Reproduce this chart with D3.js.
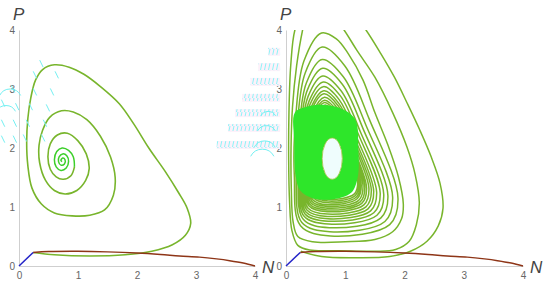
<!DOCTYPE html>
<html>
<head>
<meta charset="utf-8">
<script src="https://cdn.jsdelivr.net/npm/d3@7"></script>
<style>
  body { margin: 0; background: #fff; }
  svg { display: block; font-family: "Liberation Sans", Arial, sans-serif; }
</style>
</head>
<body>
<div id="chart"></div>
<script>
// ---- data (N, P) ----
const ticks = [0, 1, 2, 3, 4];

const separatrix = [[0, 0], [0.24, 0.23]];
const nullcline = [[0.24, 0.23], [0.5, 0.245], [1.0, 0.25], [1.5, 0.24], [2.0, 0.22], [2.4, 0.195],
  [2.72, 0.17], [3.06, 0.15], [3.35, 0.12], [3.57, 0.09], [3.8, 0.05], [4.0, 0]];

// left panel: one trajectory spiralling in to the focus
const leftSpiralOuter = [[0.24, 0.23], [0.6, 0.19], [1.2, 0.17], [1.8, 0.19], [2.25, 0.25], [2.6, 0.36],
  [2.82, 0.52], [2.91, 0.72], [2.85, 0.98], [2.7, 1.25], [2.48, 1.6], [2.2, 2.0], [1.95, 2.4], [1.7, 2.75],
  [1.37, 3.05], [1.1, 3.25], [0.85, 3.37], [0.6, 3.41], [0.4, 3.33], [0.28, 3.15], [0.2, 2.85], [0.15, 2.5],
  [0.13, 2.1], [0.15, 1.7], [0.22, 1.32], [0.38, 1.05], [0.6, 0.9], [0.9, 0.85], [1.2, 0.86], [1.45, 0.95],
  [1.6, 1.2], [1.63, 1.5], [1.55, 1.85], [1.38, 2.2], [1.15, 2.48], [0.92, 2.61], [0.72, 2.63], [0.52, 2.52],
  [0.4, 2.3], [0.34, 2.05], [0.35, 1.75], [0.45, 1.45], [0.6, 1.28], [0.78, 1.22], [0.98, 1.28], [1.13, 1.45],
  [1.19, 1.65], [1.14, 1.9], [1.0, 2.12], [0.82, 2.25], [0.65, 2.22], [0.53, 2.07], [0.49, 1.85], [0.53, 1.64],
  [0.63, 1.51], [0.75, 1.47], [0.88, 1.53], [0.94, 1.68]];
const leftSpiralInner = [[0.94, 1.68], [0.92, 1.85], [0.84, 1.96], [0.73, 2.0], [0.64, 1.94], [0.6, 1.8],
  [0.63, 1.68], [0.71, 1.62], [0.8, 1.66], [0.84, 1.77], [0.81, 1.87], [0.74, 1.9], [0.68, 1.85], [0.67, 1.77],
  [0.71, 1.71], [0.77, 1.73], [0.78, 1.8], [0.74, 1.83], [0.71, 1.79], [0.73, 1.77]];

// right panel: outer strand from the saddle, leaving and re-entering through P = 4
const rightStrand = [[0.25, 0.25], [0.6, 0.16], [1.2, 0.14], [1.75, 0.16], [2.1, 0.25], [2.38, 0.42],
  [2.57, 0.68], [2.65, 0.98], [2.6, 1.4], [2.45, 1.85], [2.26, 2.3], [2.05, 2.75], [1.83, 3.2], [1.6, 3.6],
  [1.35, 4.0], [1.05, 4.4], [0.6, 4.55], [0.3, 4.35], [0.15, 4.0], [0.08, 3.4], [0.05, 2.6], [0.045, 1.8],
  [0.06, 1.1], [0.1, 0.6], [0.2, 0.35], [0.4, 0.27], [0.9, 0.26], [1.5, 0.25], [1.85, 0.28], [2.08, 0.42],
  [2.2, 0.7], [2.25, 1.07], [2.18, 1.55], [2.04, 2.02], [1.8, 2.6], [1.5, 3.2], [1.2, 3.65], [0.98, 4.0],
  [0.75, 4.3], [0.5, 4.35], [0.33, 4.2], [0.28, 4.0], [0.18, 3.4], [0.11, 2.7], [0.085, 2.0], [0.09, 1.3],
  [0.12, 0.75], [0.2, 0.5], [0.45, 0.41], [1.0, 0.41], [1.5, 0.45], [1.8, 0.58], [1.95, 0.8], [1.98, 1.05],
  [1.9, 1.5], [1.72, 2.05], [1.5, 2.6], [1.3, 3.15], [1.05, 3.6], [0.85, 3.85], [0.6, 3.95]];

// right panel: successive turns of the inner spiral (apex, left side, bottom, right side)
const apexN = [0.6, 0.61, 0.61, 0.62, 0.62, 0.63, 0.63, 0.64, 0.64, 0.65, 0.65, 0.65, 0.66, 0.66, 0.66, 0.67, 0.67];
const apexP = [3.95, 3.71, 3.5, 3.35, 3.22, 3.12, 3.04, 2.97, 2.92, 2.86, 2.81, 2.77, 2.73, 2.69, 2.66, 2.62, 2.59];
const leftN = [0.14, 0.17, 0.2, 0.22, 0.24, 0.26, 0.28, 0.3, 0.32, 0.34, 0.36, 0.38, 0.4, 0.42, 0.44, 0.46];
const bottomP = [0.51, 0.58, 0.65, 0.71, 0.76, 0.8, 0.84, 0.88, 0.92, 0.95, 0.98, 1.01, 1.04, 1.07, 1.1, 1.13];
const rightN = [1.89, 1.8, 1.72, 1.65, 1.59, 1.53, 1.48, 1.44, 1.4, 1.36, 1.33, 1.3, 1.27, 1.25, 1.23, 1.21];

// dense core where the turns merge, and the hole in its middle
const coreOutline = [[0.15, 2.6], [0.35, 2.7], [0.65, 2.73], [0.95, 2.66], [1.17, 2.48], [1.22, 2.0],
  [1.21, 1.5], [1.1, 1.24], [0.8, 1.13], [0.45, 1.15], [0.24, 1.28], [0.16, 1.55], [0.14, 2.1]];
const holeCentre = [0.78, 1.82];
const holeRadii = [0.17, 0.35];

// faint cyan stream marks
const streaksLeft = [[0.38, 3.43], [0.27, 3.24], [0.64, 3.24], [-0.1, 3.0], [0.27, 2.95], [0.56, 2.95],
  [-0.27, 2.76], [-0.03, 2.7], [0.2, 2.7], [0.49, 2.68], [-0.27, 2.42], [-0.07, 2.42], [0.15, 2.42],
  [0.44, 2.42], [-0.27, 2.15], [-0.07, 2.15], [0.1, 2.17], [0.41, 2.17]];
const arcsLeft = [[-0.15, 3.0, 0.2], [-0.22, 2.72, 0.18]];
const hatchP = [3.63, 3.37, 3.12, 2.85, 2.59, 2.34, 2.05];
const hatchFromN = [-0.3, -0.47, -0.6, -0.74, -0.86, -0.98, -1.17];
const hatchToN = [-0.1, -0.1, -0.1, -0.1, -0.1, -0.1, -0.1];
const arcsRight = [[-0.3, 2.62, 0.14], [-0.33, 2.38, 0.17], [-0.36, 2.12, 0.2], [-0.4, 1.98, 0.22]];

// ---- drawing ----
const W = 550, H = 290;
const svg = d3.select('#chart').append('svg').attr('width', W).attr('height', H);

const defs = svg.append('defs');
defs.append('pattern')
  .attr('id', 'hatch').attr('patternUnits', 'userSpaceOnUse')
  .attr('width', 4).attr('height', 7)
  .append('path').attr('d', 'M0.5,7 L2,0')
  .attr('stroke', '#80f4f6').attr('stroke-width', 0.9).attr('fill', 'none');

const olive = '#78b52c';

function turnPoints() {
  const pts = [];
  for (let k = 0; k < leftN.length; k++) {
    const A = apexN[k], T = apexP[k], L = leftN[k], B = bottomP[k], R = rightN[k];
    const A2 = apexN[k + 1], T2 = apexP[k + 1];
    const h = T - B, h2 = T2 - B;
    pts.push([A, T]);
    pts.push([L + 0.35 * (A - L), B + 0.86 * h]);
    pts.push([L + 0.06 * (A - L), B + 0.6 * h]);
    pts.push([L, B + 0.3 * h]);
    pts.push([L + 0.06 * (R - L), B + 0.05 * h]);
    pts.push([L + 0.35 * (R - L), B]);
    pts.push([R - 0.08 * (R - L), B + 0.06 * h2]);
    pts.push([R, B + 0.2 * h2]);
    pts.push([A2 + 0.62 * (R - A2), B + 0.62 * h2]);
    pts.push([A2 + 0.3 * (R - A2), B + 0.9 * h2]);
  }
  pts.push([apexN[apexN.length - 1], apexP[apexP.length - 1]]);
  return pts;
}

function panel(id, left, right, drawRight) {
  const x = d3.scaleLinear().domain([0, 4]).range([left, right]);
  const y = d3.scaleLinear().domain([0, 4]).range([266, 30]);
  const g = svg.append('g');

  const line = d3.line().x(d => x(d[0])).y(d => y(d[1])).curve(d3.curveCatmullRom.alpha(0.5));

  defs.append('clipPath').attr('id', 'clip' + id)
    .append('rect').attr('x', x(0) - 5).attr('y', y(4)).attr('width', x(4) - x(0) + 10).attr('height', y(0) - y(4) + 5);

  // axes
  const ay = g.append('g').attr('transform', 'translate(' + x(0) + ',0)')
    .call(d3.axisLeft(y).tickValues(ticks).tickSize(0).tickPadding(4).tickFormat(d3.format('d')));
  const ax = g.append('g').attr('transform', 'translate(0,' + y(0) + ')')
    .call(d3.axisBottom(x).tickValues(ticks).tickSize(0).tickPadding(6).tickFormat(d3.format('d')));
  [ax, ay].forEach(a => {
    a.select('.domain').attr('stroke', '#cfcfcf');
    a.selectAll('text').attr('fill', '#666').style('font-size', '10px');
  });

  g.append('text').attr('x', x(0) - 6).attr('y', 20)
    .style('font-style', 'italic').style('font-size', '17px').attr('fill', '#444').text('P');
  g.append('text').attr('x', x(4) + 7).attr('y', 273)
    .style('font-style', 'italic').style('font-size', '17px').attr('fill', '#444').text('N');

  const curves = g.append('g').attr('clip-path', 'url(#clip' + id + ')').attr('fill', 'none');

  if (!drawRight) {
    curves.append('path').attr('d', line(leftSpiralOuter)).attr('stroke', olive).attr('stroke-width', 1.6);
    curves.append('path').attr('d', line(leftSpiralInner)).attr('stroke', '#3ccf2a').attr('stroke-width', 1.5);
  } else {
    curves.append('path').attr('d', line(rightStrand.concat(turnPoints().slice(1))))
      .attr('stroke', olive).attr('stroke-width', 1.5);
    const cx = x(holeCentre[0]), cy = y(holeCentre[1]);
    const rx = x(holeRadii[0]) - x(0), ry = y(0) - y(holeRadii[1]);
    const outline = d3.line().x(d => x(d[0])).y(d => y(d[1])).curve(d3.curveCatmullRomClosed.alpha(0.5))(coreOutline);
    const hole = 'M' + (cx - rx) + ',' + cy + 'a' + rx + ',' + ry + ' 0 1,0 ' + (2 * rx) + ',0' +
      'a' + rx + ',' + ry + ' 0 1,0 ' + (-2 * rx) + ',0Z';
    curves.append('path').attr('d', outline + hole).attr('fill', '#2ee62a').attr('fill-rule', 'evenodd');
    curves.append('ellipse').attr('cx', cx).attr('cy', cy).attr('rx', rx).attr('ry', ry)
      .attr('fill', '#effdfd').attr('stroke', '#9cbf3a').attr('stroke-width', 0.8);
  }

  curves.append('path').attr('d', line(nullcline)).attr('stroke', '#8e3517').attr('stroke-width', 1.4);
  g.append('path').attr('d', d3.line().x(d => x(d[0])).y(d => y(d[1]))(separatrix))
    .attr('stroke', '#2424c8').attr('stroke-width', 1.5).attr('fill', 'none');

  return { x, y, g };
}

const L = panel('L', 19, 255, false);
const R = panel('R', 286, 523, true);

// faint stream marks
const rows = svg.append('g');
hatchP.forEach((p, i) => {
  const x0 = R.x(hatchFromN[i]), x1 = R.x(hatchToN[i]), yy = R.y(p);
  rows.append('rect').attr('x', x0).attr('y', yy - 4).attr('width', x1 - x0).attr('height', 8).attr('fill', '#fdf1fa');
  rows.append('rect').attr('x', x0).attr('y', yy - 4).attr('width', x1 - x0).attr('height', 7).attr('fill', 'url(#hatch)');
});

const marks = svg.append('g').attr('fill', 'none').attr('stroke', '#74f0f2').attr('stroke-width', 1);
marks.selectAll('line.st').data(streaksLeft).join('line')
  .attr('x1', d => L.x(d[0]) - 1.7).attr('y1', d => L.y(d[1]) - 3.5)
  .attr('x2', d => L.x(d[0]) + 1.7).attr('y2', d => L.y(d[1]) + 3.5);

[[L, arcsLeft], [R, arcsRight]].forEach(([sc, arr]) => {
  marks.selectAll(null).data(arr).join('path')
    .attr('transform', d => 'translate(' + sc.x(d[0]) + ',' + (sc.y(d[1]) + (sc.x(d[2]) - sc.x(0))) + ')')
    .attr('d', d => {
      const r = sc.x(d[2]) - sc.x(0);
      return 'M' + (-r * Math.sin(1.1)) + ',' + (-r * Math.cos(1.1)) +
        'A' + r + ',' + r + ' 0 0,1 ' + (r * Math.sin(1.1)) + ',' + (-r * Math.cos(1.1));
    });
});
</script>
</body>
</html>
